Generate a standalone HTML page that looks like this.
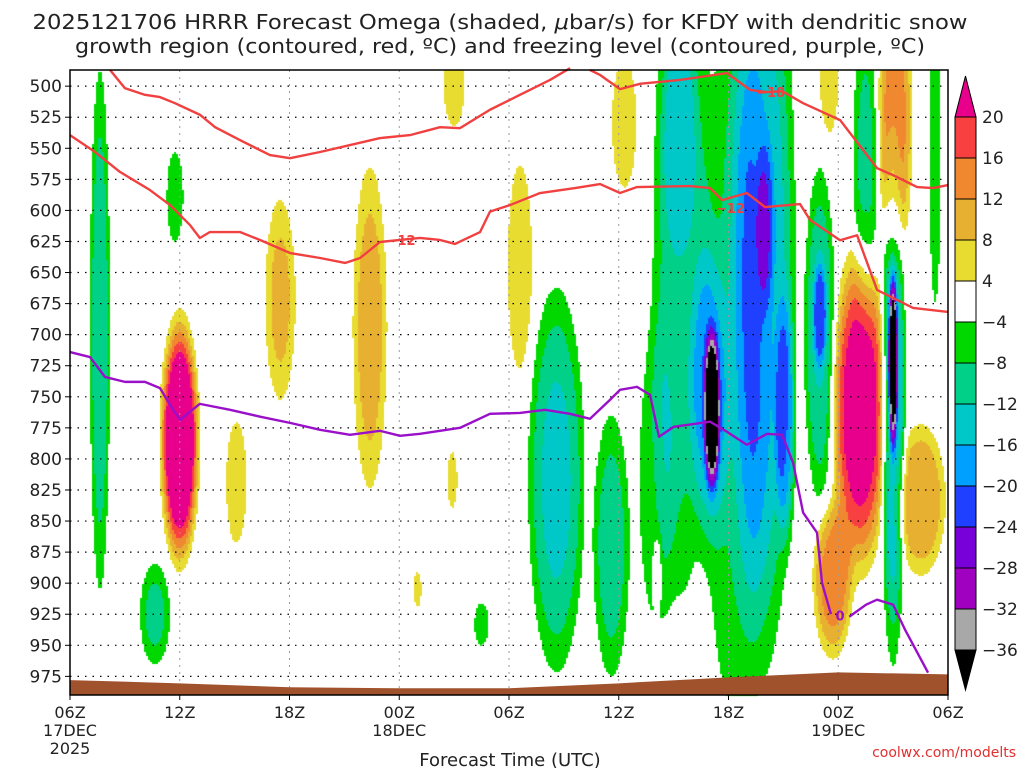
<!DOCTYPE html>
<html><head><meta charset="utf-8">
<style>
html,body{margin:0;padding:0;background:#fff;}
#wrap{position:relative;width:1024px;height:768px;overflow:hidden;}
#heat{position:absolute;left:0;top:0;}
#svg{position:absolute;left:0;top:0;}
text{font-family:"DejaVu Sans","Liberation Sans",sans-serif;}
</style></head>
<body>
<div id="wrap">
<canvas id="heat" width="1024" height="768"></canvas>
<svg id="svg" width="1024" height="768" xmlns="http://www.w3.org/2000/svg">
<text x="500" y="29" text-anchor="middle" font-size="20" fill="#222" textLength="935" lengthAdjust="spacingAndGlyphs">2025121706 HRRR Forecast Omega (shaded, <tspan font-style="italic">μ</tspan>bar/s) for KFDY with dendritic snow</text>
<text x="500" y="53" text-anchor="middle" font-size="20" fill="#222" textLength="850" lengthAdjust="spacingAndGlyphs">growth region (contoured, red, ºC) and freezing level (contoured, purple, ºC)</text>
<g id="grid"></g>
<g id="terrain"></g>
<g id="lines"></g>
<g id="axes"></g>
<g id="cbar"></g>
<text x="510" y="766" text-anchor="middle" font-size="18" fill="#222">Forecast Time (UTC)</text>
<text x="1016" y="757" text-anchor="end" font-size="14" fill="#e03030">coolwx.com/modelts</text>
</svg>
</div>
<script>
// ---- data ----
const presTicks=[500,525,550,575,600,625,650,675,700,725,750,775,800,825,850,875,900,925,950,975];
const timeTicks=[0,6,12,18,24,30,36,42,48];
const timeLabels=['06Z','12Z','18Z','00Z','06Z','12Z','18Z','00Z','06Z'];
const levels=[-36,-32,-28,-24,-20,-16,-12,-8,-4,4,8,12,16,20];
const levelColors=['#000000','#a8a8a8','#a000c0','#7800d8','#2040ff','#00a0ff','#00c8c8','#00d088','#00d800','#ffffff','#e8dc30','#e8b030','#f08830','#f84040','#e8008c'];
const blobHour=[6.0,11.5,9.1,16.4,21.0,20.9,19.0,24.6,30.3,32.1,41.7,43.2,45.1,46.5,41.5,
  1.64,5.74,4.65,22.5,26.6,29.6,33.4,35.1,35.0,38.0,39.1,37.9,41.0,41.0,43.5,45.0,45.0,47.3,33.3,32.0,36.3];
const blobPres=[785,672,819,694,500,817,905,646,530,890,897,760,527,833,500,
  696,589,925,933,817,870,640,760,750,612,768,650,684,700,560,722,760,560,540,820,720];
const blobAmp=[30,9,6,10,6,5,5,7,7,5,14,24,14,12,6,
  -11,-7,-9,-6,-13,-10,-10,-30,-10,-8,-12,-15,-12,-12,-9,-30,-16,-7,-6,-6,-8];
const blobHourWidth=[0.8,0.73,0.58,0.8,0.58,0.33,0.25,0.64,0.64,0.22,0.87,1.2,0.78,1.13,0.5,
  0.46,0.43,0.72,0.4,1.25,0.85,1.3,0.35,0.9,0.4,0.45,1.4,0.3,0.7,0.6,0.2,0.55,0.3,0.8,0.9,1.5];
const blobPresWidth=[75,71,51,111,34,27,17,80,50,27,51,100,95,50,40,
  175,35,36,18,125,90,230,50,95,55,80,250,35,110,100,55,160,110,80,110,260];
const terrainHours=[0,6,12,18,24,30,36,42,48];
const terrainPres=[978,980.6,983.8,984.6,984.6,980.6,975.8,971.8,973.4];
const dgzUpperA=[[2.19,487],[3.0,501.6],[4.1,507],[4.92,508.8],[5.74,513.7],[7.1,523],[7.93,533],[9.29,543.4],[10.93,555.5],[12.03,558],[13.67,553],[15.31,547.4],[16.95,541.8],[18.59,539.4],[20.23,533],[21.32,533.8],[22.96,519],[24.6,507],[26.24,495],[27.34,485.5]];
const dgzUpperB=[[28.43,487],[28.98,491],[30.07,502.4],[31.2,498],[33.35,495],[35.92,489.5],[37.18,503],[38.11,504.8],[38.93,504],[40.08,513.7],[42.1,527.3],[44.12,566],[45.0,571.6],[46.31,581.2],[47.18,582],[48,579.6]];
const dgzLower=[[0,539.4],[1.37,553],[2.73,569],[4.37,583.6],[5.47,595.7],[6.56,611.8],[7.1,622.2],[7.65,617.4],[9.29,617.4],[10.39,623.8],[12.03,634.3],[13.67,638.3],[15.04,642.3],[15.86,638.3],[16.95,625.4],[19.14,622.2],[20.23,623.8],[21.05,627],[22.42,617.4],[22.96,601],[24.06,595.7],[25.7,586],[27.61,582],[28.98,578.8],[30.07,586],[31.0,581.2],[33.9,580.4],[34.99,582],[35.65,591.7],[37.0,586],[38.0,597.3],[39.91,594.9],[40.46,607.7],[42.1,624],[43.03,620],[44.12,664],[46.09,678.5],[48,681.7]];
const freezeA=[[0,714],[1.09,718],[1.91,734],[3.0,738],[4.1,738],[4.92,743],[5.47,756.5],[6.02,768.5],[6.56,762],[7.1,755.7],[8.75,760.5],[10.39,766],[12.03,771],[13.67,776.6],[15.31,780.6],[16.95,777.4],[18.04,781.4],[19.14,779.8],[20.23,777.4],[21.32,775],[22.96,763.7],[24.6,763],[25.97,760.5],[27.34,763.7],[28.43,767.7],[29.52,752.5],[30.07,744.4],[31.0,742],[31.71,748.4],[32.2,782.2],[33.0,774.2],[34.99,770],[35.92,778.2],[37.0,788.6],[38.11,779.8],[38.93,780.6],[39.53,803],[40.08,843.3],[40.84,859.4],[41.11,899.6],[41.6,925]];
const freezeB=[[42.6,927],[43.52,917.3],[44.12,913.3],[45.0,917.3],[45.65,937.4],[46.91,972]];

// ---- axes ----
const X0=70,X1=948,Y0=70,Y1=695,P0=487,P1=990;
function xOf(h){return X0+h*(X1-X0)/48;}
function yOf(p){return Y0+(p-P0)*(Y1-Y0)/(P1-P0);}
const NS='http://www.w3.org/2000/svg';
function mk(tag,attrs,parent){const e=document.createElementNS(NS,tag);for(const k in attrs)e.setAttribute(k,attrs[k]);parent.appendChild(e);return e;}

// ---- shading ----
const cv=document.getElementById('heat');const ctx=cv.getContext('2d');
function omega(h,p){let v=0;for(let i=0;i<blobHour.length;i++){const dx=(h-blobHour[i])/blobHourWidth[i];const dy=(p-blobPres[i])/blobPresWidth[i];const r2=dx*dx+dy*dy;if(r2>9)continue;v+=blobAmp[i]*Math.exp(-0.5*r2*r2);}return v;}
function colorIdx(v){let i=0;while(i<levels.length&&v>=levels[i])i++;return i;}
const step=2;
for(let px=X0;px<X1;px+=step){const h=(px+1-X0)*48/(X1-X0);
  for(let py=Y0;py<Y1;py+=step){const p=P0+(py+1-Y0)*(P1-P0)/(Y1-Y0);
    const ci=colorIdx(omega(h,p));if(ci===9)continue;ctx.fillStyle=levelColors[ci];ctx.fillRect(px,py,step,step);}}

// ---- grid ----
const grid=document.getElementById('grid');
presTicks.forEach(p=>{const l=mk('line',{x1:X0,x2:X1,y1:yOf(p),y2:yOf(p),stroke:'#000','stroke-width':1.2,'stroke-dasharray':'1.5 6'},grid);

});
timeTicks.forEach(t=>{const l=mk('line',{x1:xOf(t),x2:xOf(t),y1:Y0,y2:Y1,stroke:'#999','stroke-width':1,'stroke-dasharray':'2 5'},grid);

});

// ---- terrain ----
(function(){let d='M'+xOf(terrainHours[0])+','+Y1;terrainHours.forEach((t,i)=>{d+=' L'+xOf(t)+','+yOf(terrainPres[i]);});d+=' L'+X1+','+Y1+' Z';
const e=mk('path',{d:d,fill:'#a0522d'},document.getElementById('terrain'));

})();

// ---- contour lines ----
const lines=document.getElementById('lines');
function poly(pts,color,name){const e=mk('polyline',{points:pts.map(q=>xOf(q[0])+','+yOf(q[1])).join(' '),fill:'none',stroke:color,'stroke-width':2.4,'stroke-linejoin':'round'},lines);

}
poly(dgzUpperA,'#f04040','dgz-minus18-line');poly(dgzUpperB,'#f04040','dgz-minus18-line');poly(dgzLower,'#f04040','dgz-minus12-line');
poly(freezeA,'#9a10c8','freezing-level-line');poly(freezeB,'#9a10c8','freezing-level-line');
function lab(h,p,t,c,name){const e=mk('text',{x:xOf(h),y:yOf(p)+5,'text-anchor':'middle','font-size':13,'font-weight':'bold',fill:c},lines);e.textContent=t;

}
lab(38.3,504.8,'−18','#f04040','label-minus18');lab(18.1,623.8,'−12','#f04040','label-minus12');lab(36.1,598,'−12','#f04040','label-minus12b');lab(42.1,926,'0','#9a10c8','label-zero');

// ---- axes ----
const ax=document.getElementById('axes');
mk('rect',{x:X0,y:Y0,width:X1-X0,height:Y1-Y0,fill:'none',stroke:'#000','stroke-width':1.5},ax);
presTicks.forEach(p=>{mk('line',{x1:X0-5,x2:X0,y1:yOf(p),y2:yOf(p),stroke:'#000'},ax);
const t=mk('text',{x:X0-8,y:yOf(p)+6,'text-anchor':'end','font-size':17,fill:'#222'},ax);t.textContent=p;

});
timeTicks.forEach((h,i)=>{mk('line',{x1:xOf(h),x2:xOf(h),y1:Y1,y2:Y1+5,stroke:'#000'},ax);
const t=mk('text',{x:xOf(h),y:718,'text-anchor':'middle','font-size':16,fill:'#222'},ax);t.textContent=timeLabels[i];

});
[[0,'17DEC'],[18,'18DEC'],[42,'19DEC']].forEach(d=>{const t=mk('text',{x:xOf(d[0]),y:736,'text-anchor':'middle','font-size':16,fill:'#222'},ax);t.textContent=d[1];

});
(function(){const t=mk('text',{x:xOf(0),y:754,'text-anchor':'middle','font-size':16,fill:'#222'},ax);t.textContent='2025';

})();

// ---- colorbar ----
const cb=document.getElementById('cbar');const cbx0=955,cbx1=976,cbTop=117,cbStep=41;
function cbY(i){return cbTop+(levels.length-1-i)*cbStep;}
mk('polygon',{points:cbx0+','+cbTop+' '+cbx1+','+cbTop+' '+((cbx0+cbx1)/2)+',76',fill:levelColors[14],stroke:'#000'},cb);
mk('polygon',{points:cbx0+','+cbY(0)+' '+cbx1+','+cbY(0)+' '+((cbx0+cbx1)/2)+',690',fill:levelColors[0],stroke:'#000'},cb);
for(let i=1;i<levels.length;i++){const r=mk('rect',{x:cbx0,y:cbY(i),width:cbx1-cbx0,height:cbStep,fill:levelColors[i],stroke:'#000'},cb);

}
levels.forEach((v,i)=>{const t=mk('text',{x:982,y:cbY(i)+6,'font-size':17,fill:'#222'},cb);t.textContent=(v<0?'−':'')+Math.abs(v);

});
</script>
</body></html>
